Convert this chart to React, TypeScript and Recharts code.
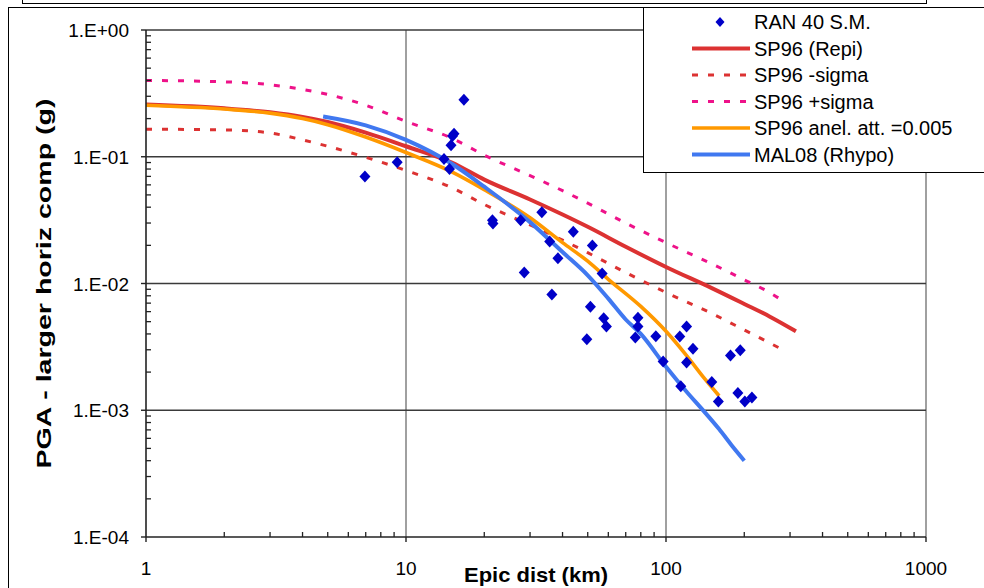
import React from 'react';
import { ComposedChart, Line, Scatter, XAxis, YAxis, CartesianGrid, Legend, Label } from 'recharts';

// attenuation curves, distance in km / PGA in g
const repiDist = [1, 2, 3, 4, 5, 7, 10, 15, 20, 30, 40, 50, 70, 100, 150, 200, 250, 316];
const repiPga = [0.258, 0.241, 0.224, 0.206, 0.188, 0.155, 0.121, 0.09, 0.066, 0.046, 0.035, 0.028, 0.0195, 0.0135, 0.0092, 0.0069, 0.0055, 0.0042];

const sigmaDist = [1, 2, 3, 4, 5, 7, 10, 15, 20, 30, 40, 50, 70, 100, 150, 200, 250, 290];
const minusSigmaPga = [0.165, 0.163, 0.154, 0.136, 0.121, 0.099, 0.078, 0.057, 0.042, 0.029, 0.022, 0.0175, 0.0122, 0.0085, 0.0058, 0.0043, 0.0034, 0.0029];
const plusSigmaPga = [0.4, 0.39, 0.37, 0.34, 0.31, 0.255, 0.19, 0.14, 0.103, 0.071, 0.054, 0.043, 0.03, 0.021, 0.0143, 0.0107, 0.0085, 0.007];

const anelDist = [1, 2, 3, 4, 5, 7, 10, 15, 20, 30, 40, 50, 60, 80, 100, 120, 140, 160];
const anelPga = [0.255, 0.238, 0.221, 0.2, 0.179, 0.143, 0.108, 0.076, 0.055, 0.033, 0.021, 0.015, 0.0108, 0.0066, 0.0042, 0.0027, 0.0018, 0.0013];

const mal08Dist = [4.8, 7, 10, 15, 20, 30, 40, 50, 60, 70, 80, 100, 120, 140, 160, 180, 200];
const mal08Pga = [0.208, 0.177, 0.136, 0.088, 0.058, 0.0305, 0.0177, 0.0116, 0.0076, 0.0052, 0.004, 0.0022, 0.0014, 0.00098, 0.00071, 0.00052, 0.0004];

// recorded stations
const obsDist = [6.95, 9.25, 14.0, 14.7, 14.9, 15.1, 15.3, 16.7, 21.5, 21.6, 27.6, 28.5, 33.3, 35.7, 36.4, 38.4, 44.0, 49.6, 51.2, 52.1, 56.8, 57.6, 59.0, 76.2, 78.0, 78.0, 91.4, 97.5, 113, 114, 120, 120, 127, 150, 159, 177, 193, 189, 201, 214];
const obsPga = [0.07, 0.0905, 0.096, 0.08, 0.123, 0.146, 0.152, 0.282, 0.0315, 0.0298, 0.0316, 0.0122, 0.0365, 0.0214, 0.0082, 0.0158, 0.0256, 0.00363, 0.00656, 0.0199, 0.012, 0.00533, 0.00458, 0.00375, 0.00537, 0.00458, 0.00384, 0.00242, 0.00382, 0.00155, 0.00458, 0.00238, 0.00305, 0.00167, 0.00117, 0.0027, 0.00297, 0.00137, 0.00117, 0.00126];

const xMajorTicks = [1, 10, 100, 1000];
const xMinorTicks = [2, 3, 4, 5, 6, 7, 8, 9, 20, 30, 40, 50, 60, 70, 80, 90, 200, 300, 400, 500, 600, 700, 800, 900];
const yMajorTicks = [0.0001, 0.001, 0.01, 0.1, 1];
const yTickLabels = ['1.E-04', '1.E-03', '1.E-02', '1.E-01', '1.E+00'];
const yMinorTicks = [
  0.0002, 0.0003, 0.0004, 0.0005, 0.0006, 0.0007, 0.0008, 0.0009,
  0.002, 0.003, 0.004, 0.005, 0.006, 0.007, 0.008, 0.009,
  0.02, 0.03, 0.04, 0.05, 0.06, 0.07, 0.08, 0.09,
  0.2, 0.3, 0.4, 0.5, 0.6, 0.7, 0.8, 0.9,
];

const FONT = '"Liberation Sans", Arial, sans-serif';
const AXIS = '#222';

const series = {
  obs: { name: 'RAN 40 S.M.', color: '#0000c8' },
  repi: { name: 'SP96 (Repi)', color: '#dc3232', width: 4, dash: undefined },
  minus: { name: 'SP96 -sigma', color: '#dc3232', width: 3, dash: '6 10' },
  plus: { name: 'SP96 +sigma', color: '#ee1289', width: 3, dash: '6 10' },
  anel: { name: 'SP96 anel. att. =0.005', color: '#ff9900', width: 3.6, dash: undefined },
  mal: { name: 'MAL08 (Rhypo)', color: '#4078f0', width: 4, dash: undefined },
};
const legendOrder = ['obs', 'repi', 'minus', 'plus', 'anel', 'mal'];

const pts = (xs: number[], ys: number[]) => xs.map((x, i) => ({ x, y: ys[i] }));

const isMajor = (list: number[], v: number) => list.findIndex((t) => Math.abs(t - v) / t < 1e-6);

const Diamond = (p: any) => {
  const { cx, cy } = p;
  if (cx == null || cy == null) return null;
  return <polygon points={`${cx},${cy - 6} ${cx + 5.5},${cy} ${cx},${cy + 6} ${cx - 5.5},${cy}`} fill={series.obs.color} />;
};

const XTick = (p: any) => {
  const { x, y, payload } = p;
  if (isMajor(xMajorTicks, payload.value) >= 0) {
    return (
      <g>
        <line x1={x} y1={y} x2={x} y2={y + 5} stroke={AXIS} strokeWidth={1.4} />
        <text x={x} y={y + 38} textAnchor="middle" fontSize={19} fill="#000" fontFamily={FONT}>
          {payload.value}
        </text>
      </g>
    );
  }
  // minor ticks point up into the plot
  return (
    <g>
      <line x1={x} y1={y} x2={x} y2={y - 5} stroke={AXIS} strokeWidth={1.3} />
    </g>
  );
};

const YTick = (p: any) => {
  const { x, y, payload } = p;
  const i = isMajor(yMajorTicks, payload.value);
  if (i >= 0) {
    return (
      <g>
        <line x1={x - 5} y1={y} x2={x} y2={y} stroke={AXIS} strokeWidth={1.4} />
        <text x={x - 17} y={y + 7} textAnchor="end" fontSize={19} fill="#000" fontFamily={FONT}>
          {yTickLabels[i]}
        </text>
      </g>
    );
  }
  return (
    <g>
      <line x1={x} y1={y} x2={x + 5} y2={y} stroke={AXIS} strokeWidth={1.3} />
    </g>
  );
};

const XTitle = (p: any) => {
  const vb = p.viewBox;
  return (
    <text x={vb.x + vb.width / 2} y={vb.y + 45} textAnchor="middle" fontSize={21} fontWeight="bold" fontFamily={FONT} fill="#000" textLength={144} lengthAdjust="spacingAndGlyphs">
      Epic dist (km)
    </text>
  );
};

const YTitle = (p: any) => {
  const vb = p.viewBox;
  const cx = vb.x + 51;
  const cy = vb.y + vb.height / 2;
  return (
    <text transform={`translate(${cx},${cy}) rotate(-90)`} textAnchor="middle" fontSize={21} fontWeight="bold" fontFamily={FONT} fill="#000" textLength={370} lengthAdjust="spacingAndGlyphs">
      PGA - larger horiz comp (g)
    </text>
  );
};

const LegendBox = (p: any) => {
  const entries = p.payload || [];
  return (
    <svg width={345} height={165} style={{ display: 'block' }}>
      {legendOrder.map((key, i) => {
        const s: any = (series as any)[key];
        const found = entries.find((e: any) => e.value === s.name);
        const color = found ? found.color : s.color;
        const cy = 14 + i * 26.5;
        return (
          <g key={key}>
            {key === 'obs' ? (
              <polygon points={`76,${cy - 5} 80.5,${cy} 76,${cy + 5} 71.5,${cy}`} fill={color} />
            ) : (
              <line x1={48} y1={cy} x2={106} y2={cy} stroke={color} strokeWidth={s.width} strokeDasharray={s.dash} />
            )}
            <text x={110} y={cy + 7} fontSize={20} fontFamily={FONT} fill="#000">
              {s.name}
            </text>
          </g>
        );
      })}
    </svg>
  );
};

export default function App() {
  const xTicks = [...xMajorTicks, ...xMinorTicks].sort((a, b) => a - b);
  const yTicks = [...yMajorTicks, ...yMinorTicks].sort((a, b) => a - b);
  const lineKeys = ['minus', 'plus', 'repi', 'anel', 'mal'];
  const lineData: any = {
    repi: pts(repiDist, repiPga),
    minus: pts(sigmaDist, minusSigmaPga),
    plus: pts(sigmaDist, plusSigmaPga),
    anel: pts(anelDist, anelPga),
    mal: pts(mal08Dist, mal08Pga),
  };

  return (
    <div style={{ position: 'fixed', left: 0, top: 0, width: 984, height: 588, overflow: 'hidden', background: '#fff' }}>
      <div style={{ position: 'absolute', left: 22, top: -30, width: 903, height: 32, border: '1.5px solid #000' }} />
      <div style={{ position: 'absolute', left: 7.5, top: 6.5, width: 1100, height: 700, border: '1.5px solid #000' }} />
      <div style={{ position: 'absolute', left: 0, top: 0 }}>
        <ComposedChart width={984} height={588} margin={{ top: 30, right: 58, bottom: 0, left: 0 }} style={{ fontFamily: FONT }}>
          <CartesianGrid horizontal={false} verticalValues={[10, 100, 1000]} stroke="#808080" strokeWidth={1.5} />
          <CartesianGrid vertical={false} horizontalValues={[0.001, 0.01, 0.1, 1]} stroke="#3a3a3a" strokeWidth={1.4} />
          <XAxis
            dataKey="x"
            type="number"
            scale="log"
            domain={[1, 1000]}
            allowDataOverflow
            ticks={xTicks}
            interval={0}
            height={51}
            tickSize={0}
            tickMargin={0}
            tickLine={false}
            tick={<XTick />}
            axisLine={{ stroke: AXIS, strokeWidth: 1.6 }}
          >
            <Label content={<XTitle />} />
          </XAxis>
          <YAxis
            dataKey="y"
            type="number"
            scale="log"
            domain={[0.0001, 1]}
            allowDataOverflow
            ticks={yTicks}
            interval={0}
            width={146}
            tickSize={0}
            tickMargin={0}
            tickLine={false}
            tick={<YTick />}
            axisLine={{ stroke: AXIS, strokeWidth: 1.6 }}
          >
            <Label content={<YTitle />} />
          </YAxis>
          {lineKeys.map((k) => {
            const s: any = (series as any)[k];
            return (
              <Line
                key={k}
                data={lineData[k]}
                dataKey="y"
                name={s.name}
                type="monotone"
                stroke={s.color}
                strokeWidth={s.width}
                strokeDasharray={s.dash}
                dot={false}
                activeDot={false}
                isAnimationActive={false}
              />
            );
          })}
          <Scatter
            data={pts(obsDist, obsPga)}
            name={series.obs.name}
            fill={series.obs.color}
            shape={Diamond}
            isAnimationActive={false}
          />
          <Legend
            layout="horizontal"
            align="center"
            verticalAlign="middle"
            content={<LegendBox />}
            wrapperStyle={{ left: 643, top: 6.5, width: 345, height: 166, border: '1.5px solid #000', background: '#fff', boxSizing: 'border-box' }}
          />
        </ComposedChart>
      </div>
    </div>
  );
}
